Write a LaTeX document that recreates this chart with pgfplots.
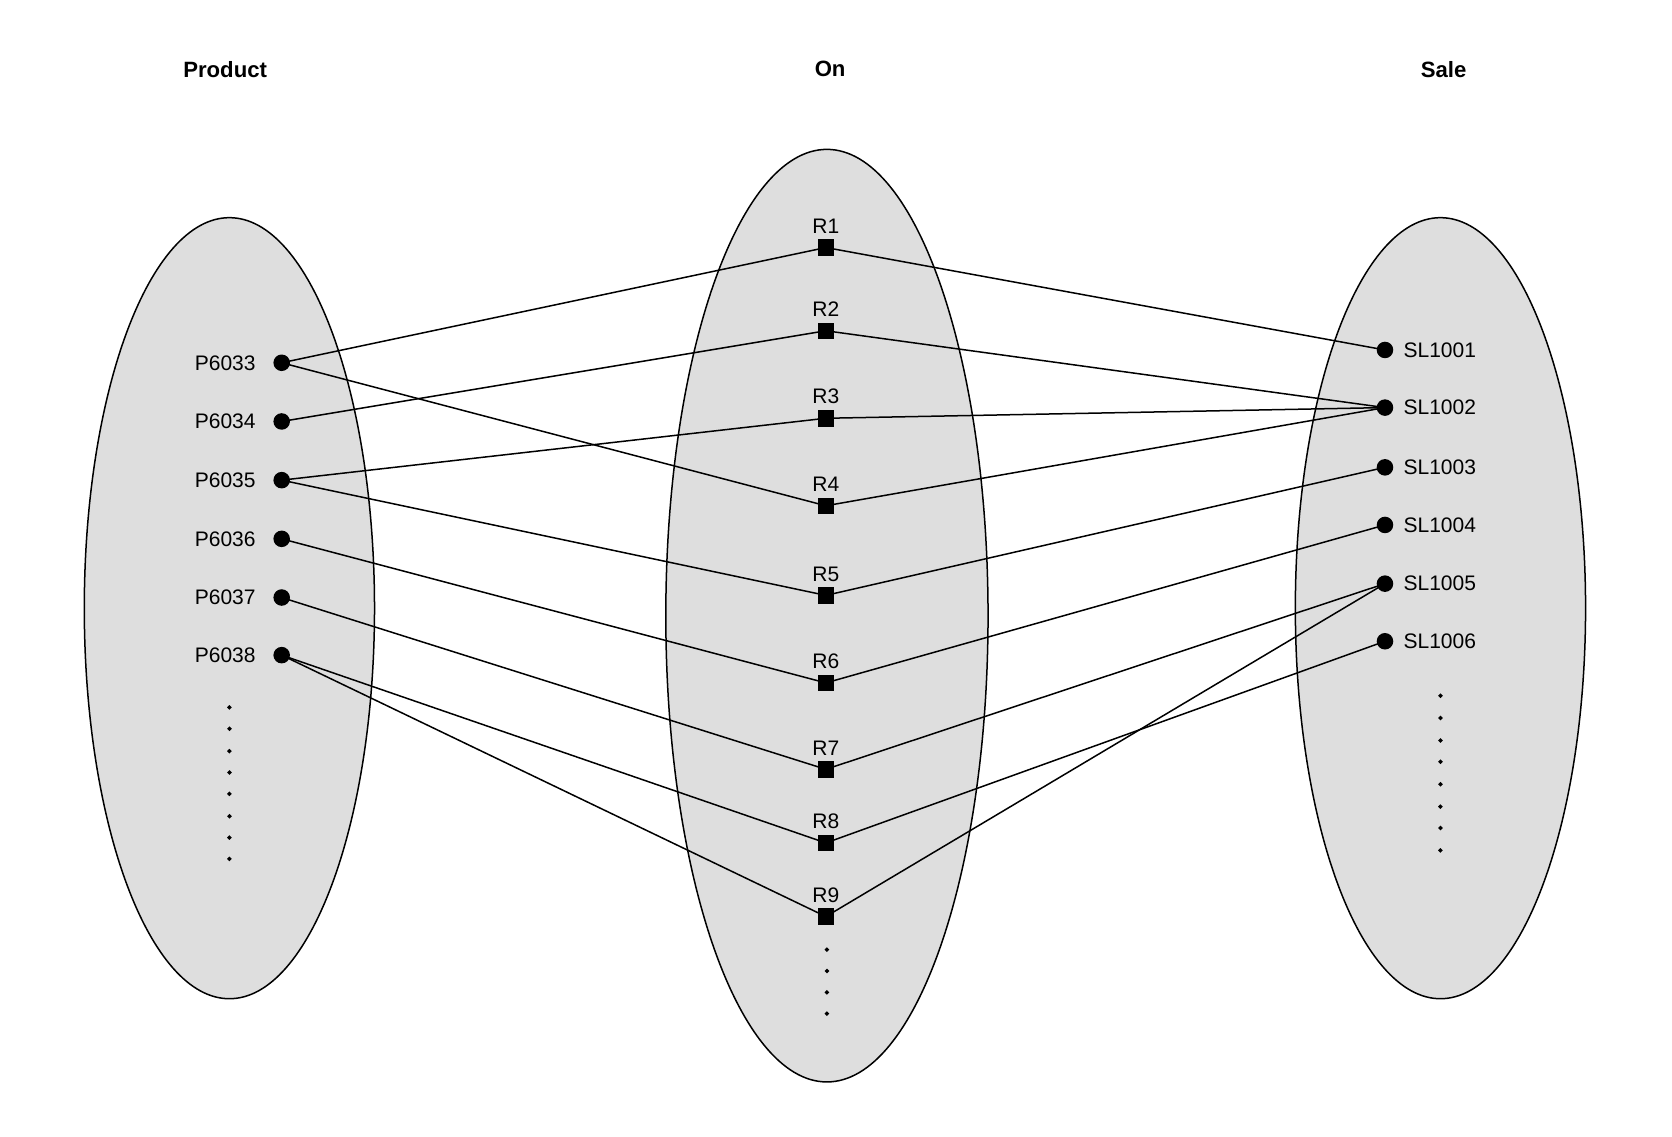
\documentclass[border=0pt]{standalone}
\usepackage{pgfplots}
\pgfplotsset{compat=1.18}
\usepackage{fontspec}
\setmainfont{Liberation Sans}
\begin{document}
\begin{tikzpicture}
\begin{axis}[axis lines=none, xmin=0, xmax=1567, ymin=0, ymax=1065, x=0.01cm, y=0.01cm, y dir=reverse, clip=false, scale only axis, font=\fontsize{5.6}{6.5}\selectfont,
  edge/.style={black, solid, line width=0.4pt, mark=none}]
\path (axis cs:0,0) rectangle (axis cs:1567,1065);
\draw[fill={rgb,255:red,222;green,222;blue,222}, line width=0.4pt] (axis cs:215,570) ellipse [x radius=136, y radius=366];
\draw[fill={rgb,255:red,222;green,222;blue,222}, line width=0.4pt] (axis cs:775,577) ellipse [x radius=151, y radius=437];
\draw[fill={rgb,255:red,222;green,222;blue,222}, line width=0.4pt] (axis cs:1350,570) ellipse [x radius=136, y radius=366];
\node[font=\fontsize{5.9}{7}\selectfont\bfseries] at (axis cs:211,65) {Product};
\node[font=\fontsize{5.9}{7}\selectfont\bfseries] at (axis cs:778,65) {On};
\node[font=\fontsize{5.9}{7}\selectfont\bfseries] at (axis cs:1353,65) {Sale};
\addplot[edge] coordinates {(264,340) (774,232)};
\addplot[edge] coordinates {(264,340) (774,474)};
\addplot[edge] coordinates {(264,395) (774,310)};
\addplot[edge] coordinates {(264,450) (774,392)};
\addplot[edge] coordinates {(264,450) (774,558)};
\addplot[edge] coordinates {(264,505) (774,640)};
\addplot[edge] coordinates {(264,560) (774,721)};
\addplot[edge] coordinates {(264,614) (774,790)};
\addplot[edge] coordinates {(264,614) (774,859)};
\addplot[edge] coordinates {(774,232) (1298,328)};
\addplot[edge] coordinates {(774,310) (1298,382)};
\addplot[edge] coordinates {(774,392) (1298,382)};
\addplot[edge] coordinates {(774,474) (1298,382)};
\addplot[edge] coordinates {(774,558) (1298,438)};
\addplot[edge] coordinates {(774,640) (1298,492)};
\addplot[edge] coordinates {(774,721) (1298,547)};
\addplot[edge] coordinates {(774,790) (1298,601)};
\addplot[edge] coordinates {(774,859) (1298,547)};
\addplot[black, only marks, mark=*, mark size=2pt] coordinates {(264,340) (264,395) (264,450) (264,505) (264,560) (264,614)};
\addplot[black, only marks, mark=*, mark size=2pt] coordinates {(1298,328) (1298,382) (1298,438) (1298,492) (1298,547) (1298,601)};
\addplot[black, only marks, mark=square*, mark size=2pt] coordinates {(774,232) (774,310) (774,392) (774,474) (774,558) (774,640) (774,721) (774,790) (774,859)};
\addplot[black, only marks, mark=*, mark size=0.35pt] coordinates {(215,663) (215,683) (215,704) (215,724) (215,744) (215,765) (215,785) (215,805)};
\addplot[black, only marks, mark=*, mark size=0.35pt] coordinates {(775,890) (775,910) (775,930) (775,950)};
\addplot[black, only marks, mark=*, mark size=0.35pt] coordinates {(1350,652) (1350,673) (1350,694) (1350,714) (1350,735) (1350,756) (1350,776) (1350,797)};
\foreach \y/\t in {340/P6033,395/P6034,450/P6035,505/P6036,560/P6037,614/P6038}
  {\edef\tmp{\noexpand\node[anchor=east] at (axis cs:252,\y) {\t};}\tmp}
\foreach \y/\t in {328/SL1001,382/SL1002,438/SL1003,492/SL1004,547/SL1005,601/SL1006}
  {\edef\tmp{\noexpand\node[anchor=west] at (axis cs:1303,\y) {\t};}\tmp}
\foreach \y/\t in {232/R1,310/R2,392/R3,474/R4,558/R5,640/R6,721/R7,790/R8,859/R9}
  {\edef\tmp{\noexpand\node[anchor=south, inner sep=1pt] at (axis cs:774,\y-9) {\t};}\tmp}
\end{axis}
\end{tikzpicture}
\end{document}
